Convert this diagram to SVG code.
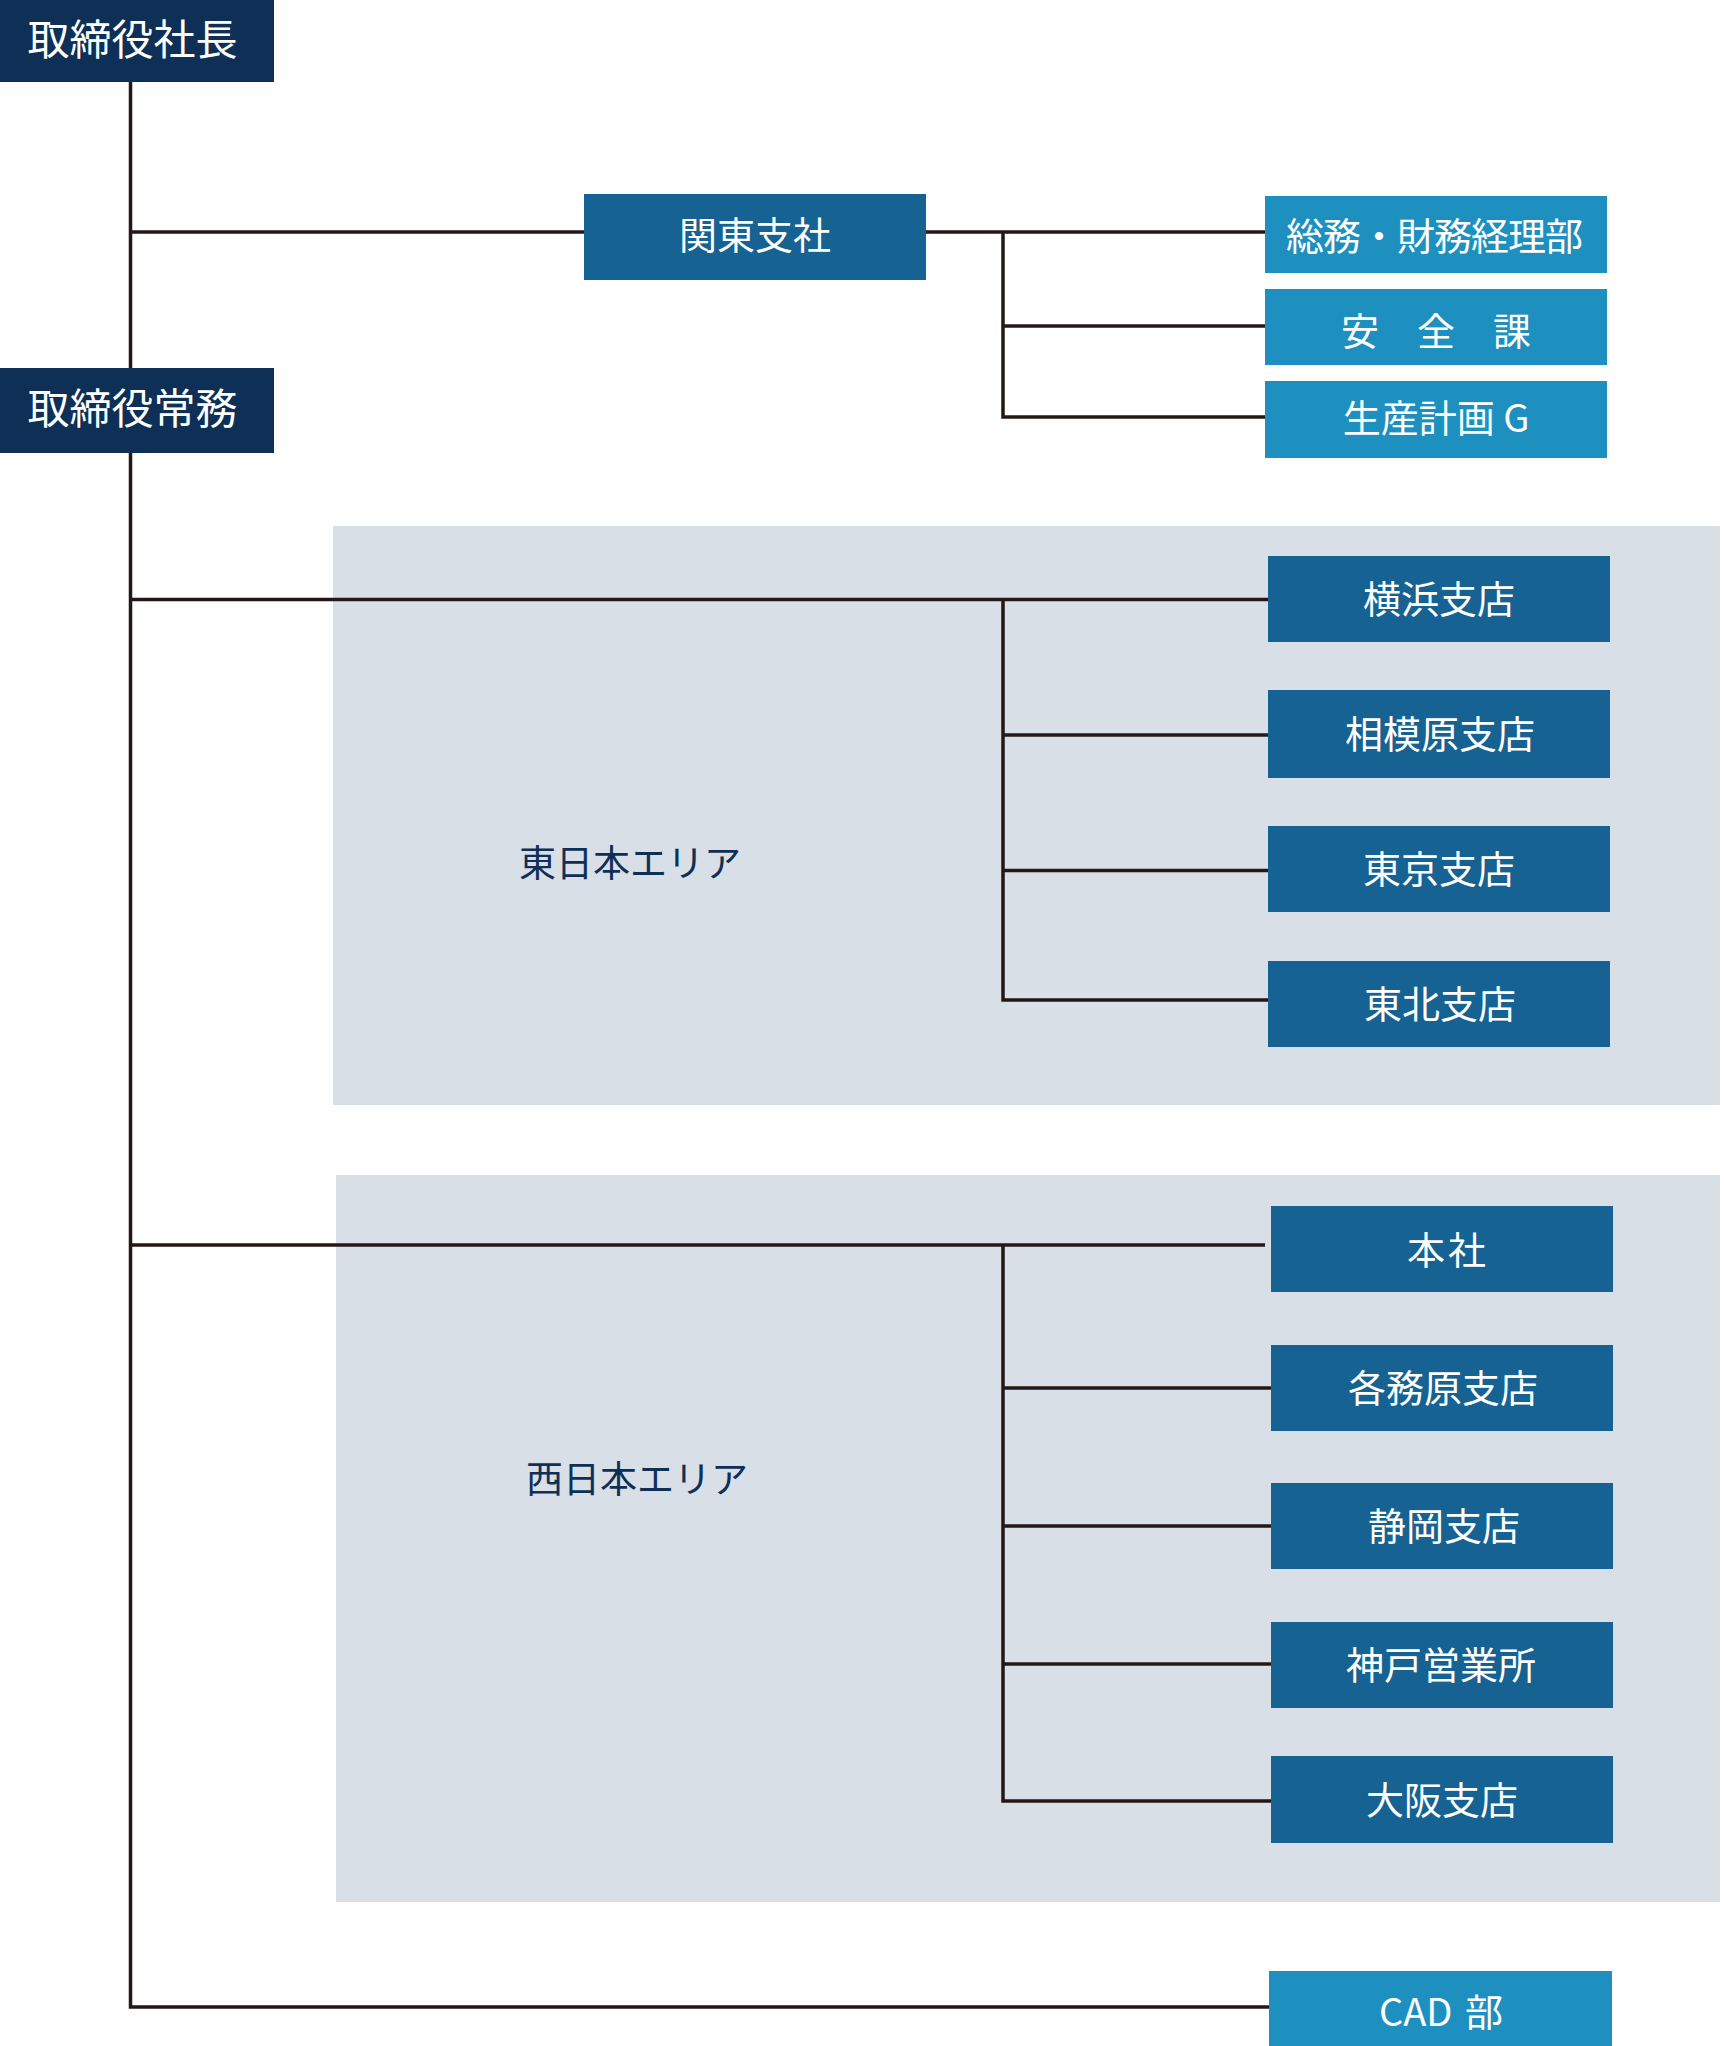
<svg xmlns="http://www.w3.org/2000/svg" width="1724" height="2046" viewBox="0 0 1724 2046">
<style>
  text { font-family: "Noto Sans CJK JP", "Noto Sans", sans-serif; text-anchor: middle; }
  .t { fill: #ffffff; font-size: 38px; }
  .big { fill: #ffffff; font-size: 42px; }
  .area { fill: #0e2f56; font-size: 37px; }
  .exec { fill: #0e2f56; }
  .mid { fill: #166292; }
  .light { fill: #1e90c0; }
  .panel { fill: #d8dfe7; }
  .ln { stroke: #231815; stroke-width: 3.5; fill: none; }
</style>
<rect width="1724" height="2046" fill="#ffffff"/>
<g id="area-east">
  <rect class="panel" x="333" y="526" width="1387" height="579"/>
  <text class="area" x="630" y="877">東日本エリア</text>
</g>
<g id="area-west">
  <rect class="panel" x="336" y="1175" width="1384" height="727"/>
  <text class="area" x="637" y="1493">西日本エリア</text>
</g>
<g id="connectors">
  <path class="ln" d="M130.5 82 V2007 H1269"/>
  <path class="ln" d="M130.5 232 H584"/>
  <path class="ln" d="M926 232 H1265"/>
  <path class="ln" d="M1003 232 V417 H1265"/>
  <path class="ln" d="M1003 326 H1265"/>
  <path class="ln" d="M130.5 599.5 H1268"/>
  <path class="ln" d="M1003 599.5 V1000 H1268"/>
  <path class="ln" d="M1003 735 H1268"/>
  <path class="ln" d="M1003 870.5 H1268"/>
  <path class="ln" d="M130.5 1245 H1265"/>
  <path class="ln" d="M1003 1245 V1801 H1271"/>
  <path class="ln" d="M1003 1388 H1271"/>
  <path class="ln" d="M1003 1526 H1271"/>
  <path class="ln" d="M1003 1664 H1271"/>
</g>
<g id="president">
  <rect class="exec" x="0" y="0" width="274" height="82"/>
  <text class="big" x="132.5" y="54.5">取締役社長</text>
</g>
<g id="managing-director">
  <rect class="exec" x="0" y="368" width="274" height="85"/>
  <text class="big" x="132.5" y="424">取締役常務</text>
</g>
<g id="kanto">
  <rect class="mid" x="584" y="194" width="342" height="86"/>
  <text class="t" x="755" y="249">関東支社</text>
</g>
<g id="somu">
  <rect class="light" x="1265" y="196" width="342" height="77"/>
  <text class="t" x="1434" y="250" font-size="37" letter-spacing="-1">総務・財務経理部</text>
</g>
<g id="anzen">
  <rect class="light" x="1265" y="289" width="342" height="76"/>
  <text class="t" x="1436" y="345">安　全　課</text>
</g>
<g id="seisan">
  <rect class="light" x="1265" y="381" width="342" height="77"/>
  <text class="t" x="1436" y="431.5">生産計画 G</text>
</g>
<g id="yokohama">
  <rect class="mid" x="1268" y="556" width="342" height="86"/>
  <text class="t" x="1439" y="613">横浜支店</text>
</g>
<g id="sagamihara">
  <rect class="mid" x="1268" y="690" width="342" height="88"/>
  <text class="t" x="1440" y="748">相模原支店</text>
</g>
<g id="tokyo">
  <rect class="mid" x="1268" y="826" width="342" height="86"/>
  <text class="t" x="1439" y="883">東京支店</text>
</g>
<g id="tohoku">
  <rect class="mid" x="1268" y="961" width="342" height="86"/>
  <text class="t" x="1440" y="1018">東北支店</text>
</g>
<g id="honsha">
  <rect class="mid" x="1271" y="1206" width="342" height="86"/>
  <text class="t" x="1448" y="1263.5" letter-spacing="3">本社</text>
</g>
<g id="kakamigahara">
  <rect class="mid" x="1271" y="1345" width="342" height="86"/>
  <text class="t" x="1443" y="1402">各務原支店</text>
</g>
<g id="shizuoka">
  <rect class="mid" x="1271" y="1483" width="342" height="86"/>
  <text class="t" x="1444" y="1540">静岡支店</text>
</g>
<g id="kobe">
  <rect class="mid" x="1271" y="1622" width="342" height="86"/>
  <text class="t" x="1441" y="1679">神戸営業所</text>
</g>
<g id="osaka">
  <rect class="mid" x="1271" y="1756" width="342" height="87"/>
  <text class="t" x="1442" y="1813.5">大阪支店</text>
</g>
<g id="cad">
  <rect class="light" x="1269" y="1971" width="343" height="75"/>
  <text class="t" x="1441" y="2026" font-size="39" word-spacing="4">CAD 部</text>
</g>
</svg>
